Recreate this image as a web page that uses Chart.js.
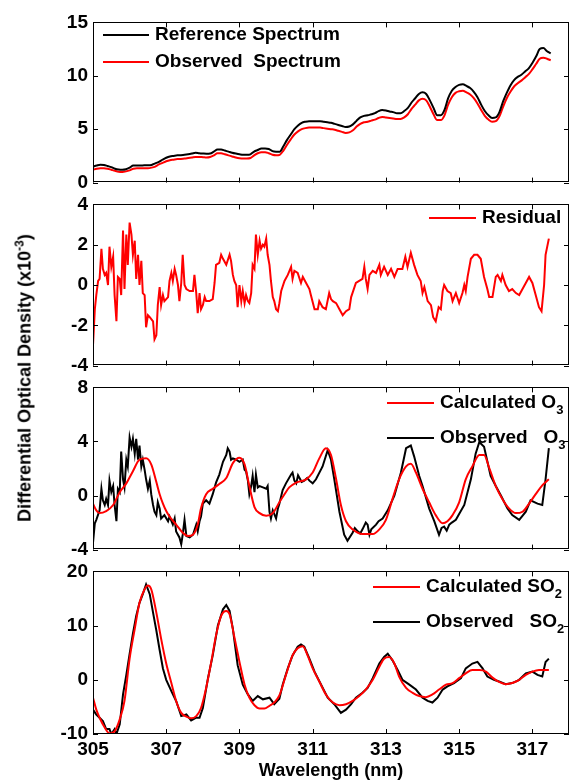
<!DOCTYPE html>
<html>
<head>
<meta charset="utf-8">
<script src="https://cdn.jsdelivr.net/npm/chart.js@4.4.0/dist/chart.umd.min.js"></script>
<style>
    body { margin: 0; background: #fff; }
    #wrap { position: relative; width: 569px; height: 780px; overflow: hidden; }
    #wrap canvas { position: absolute; left: 0; }
    #ytitle {
        position: absolute; left: 24px; top: 378px;
        transform: translate(-50%, -50%) rotate(-90deg);
        white-space: nowrap; color: #000;
        font: bold 18px "Liberation Sans", Arial, sans-serif;
    }
    #ytitle sup { font-size: 12px; }
</style>
</head>
<body>
<div id="wrap">
    <canvas id="c1" width="569" height="193" style="top:6px"></canvas>
    <canvas id="c2" width="569" height="194" style="top:188px"></canvas>
    <canvas id="c3" width="569" height="195" style="top:371px"></canvas>
    <canvas id="c4" width="569" height="225" style="top:555px"></canvas>
    <div id="ytitle">Differential Optical Density (x10<sup>-3</sup>)</div>
</div>
<script>
// Wavelength axis (nm)
const xTicks = [305, 307, 309, 311, 313, 315, 317];

// Panel 1: spectra, sampled every 0.1 nm
const wl = [
    305.0, 305.1, 305.2, 305.3, 305.4, 305.5, 305.6, 305.7, 305.8, 305.9,
    306.0, 306.1, 306.2, 306.3, 306.4, 306.5, 306.6, 306.7, 306.8, 306.9,
    307.0, 307.1, 307.2, 307.3, 307.4, 307.5, 307.6, 307.7, 307.8, 307.9,
    308.0, 308.1, 308.2, 308.3, 308.4, 308.5, 308.6, 308.7, 308.8, 308.9,
    309.0, 309.1, 309.2, 309.3, 309.4, 309.5, 309.6, 309.7, 309.8, 309.9,
    310.0, 310.1, 310.2, 310.3, 310.4, 310.5, 310.6, 310.7, 310.8, 310.9,
    311.0, 311.1, 311.2, 311.3, 311.4, 311.5, 311.6, 311.7, 311.8, 311.9,
    312.0, 312.1, 312.2, 312.3, 312.4, 312.5, 312.6, 312.7, 312.8, 312.9,
    313.0, 313.1, 313.2, 313.3, 313.4, 313.5, 313.6, 313.7, 313.8, 313.9,
    314.0, 314.1, 314.2, 314.3, 314.4, 314.5, 314.6, 314.7, 314.8, 314.9,
    315.0, 315.1, 315.2, 315.3, 315.4, 315.5, 315.6, 315.7, 315.8, 315.9,
    316.0, 316.1, 316.2, 316.3, 316.4, 316.5, 316.6, 316.7, 316.8, 316.9,
    317.0, 317.1, 317.2, 317.3, 317.4, 317.5
];
const refSpectrum = [
    1.5, 1.6, 1.67, 1.65, 1.55, 1.45, 1.3, 1.22, 1.2, 1.25,
    1.4, 1.6, 1.6, 1.6, 1.62, 1.62, 1.65, 1.8, 1.95, 2.15,
    2.33, 2.45, 2.5, 2.55, 2.57, 2.6, 2.65, 2.72, 2.8, 2.75,
    2.72, 2.7, 2.72, 2.9, 3.1, 3.1, 3.0, 2.9, 2.8, 2.72,
    2.65, 2.6, 2.6, 2.65, 2.9, 3.05, 3.2, 3.2, 3.15, 2.95,
    2.9, 2.9, 3.4, 4.0, 4.5, 5.0, 5.35, 5.6, 5.7, 5.75,
    5.75, 5.75, 5.75, 5.7, 5.65, 5.6, 5.5, 5.4, 5.3, 5.2,
    5.25, 5.45, 5.8, 6.1, 6.25, 6.3, 6.4, 6.5, 6.7, 6.8,
    6.75, 6.65, 6.6, 6.5, 6.5, 6.7, 7.0, 7.5, 7.9, 8.3,
    8.45, 8.3, 7.7, 7.0, 6.3, 6.3, 6.8, 7.9, 8.6, 8.95,
    9.15, 9.2, 9.05, 8.85, 8.5, 8.0, 7.3, 6.7, 6.3, 6.05,
    6.1, 6.6, 7.6, 8.4, 9.1, 9.6, 9.9, 10.1, 10.4, 10.7,
    11.2, 11.8, 12.5, 12.6, 12.3, 12.1
];
const obsSpectrum = [
    1.2, 1.3, 1.35, 1.35, 1.3, 1.2, 1.1, 1.02, 1.0, 1.05,
    1.15, 1.3, 1.35, 1.35, 1.35, 1.35, 1.4, 1.5, 1.7, 1.85,
    2.0, 2.1, 2.15, 2.2, 2.22, 2.25, 2.3, 2.35, 2.4, 2.4,
    2.38, 2.35, 2.4, 2.55, 2.75, 2.75, 2.65, 2.55, 2.45, 2.35,
    2.28, 2.25, 2.25, 2.3, 2.55, 2.75, 2.85, 2.85, 2.75, 2.6,
    2.55, 2.6, 3.0, 3.55, 4.05, 4.5, 4.8, 5.0, 5.1, 5.15,
    5.15, 5.15, 5.15, 5.1, 5.05, 5.0, 4.95, 4.85, 4.75, 4.65,
    4.7, 4.9, 5.25, 5.5, 5.65, 5.7, 5.8, 5.9, 6.05, 6.15,
    6.1, 6.05, 6.0, 5.95, 5.95, 6.1, 6.4, 6.9, 7.3, 7.7,
    7.85, 7.7, 7.1, 6.4, 5.85, 5.85, 6.3, 7.3, 8.0, 8.4,
    8.55, 8.6, 8.45, 8.25, 7.9, 7.4, 6.8, 6.25, 5.9, 5.7,
    5.75, 6.2, 7.1, 7.9, 8.5, 9.0, 9.3, 9.55, 9.85, 10.15,
    10.6, 11.1, 11.6, 11.7, 11.6, 11.45
];

// Panel 2: residual
const residWl = [
    305.00, 305.05, 305.09, 305.14, 305.18, 305.23, 305.27, 305.32, 305.36, 305.41,
    305.45, 305.50, 305.55, 305.59, 305.64, 305.68, 305.73, 305.77, 305.82, 305.86,
    305.91, 305.95, 306.00, 306.05, 306.09, 306.14, 306.18, 306.23, 306.27, 306.32,
    306.36, 306.41, 306.45, 306.50, 306.55, 306.64, 306.68, 306.73, 306.77, 306.82,
    306.86, 306.91, 306.95, 307.00, 307.05, 307.09, 307.14, 307.18, 307.23, 307.27,
    307.32, 307.36, 307.41, 307.45, 307.50, 307.55, 307.64, 307.73, 307.77, 307.82,
    307.86, 307.91, 307.95, 308.00, 308.05, 308.09, 308.18, 308.27, 308.32, 308.36,
    308.45, 308.50, 308.55, 308.64, 308.73, 308.77, 308.82, 308.86, 308.91, 308.95,
    309.00, 309.05, 309.09, 309.14, 309.18, 309.23, 309.27, 309.32, 309.36, 309.41,
    309.45, 309.50, 309.55, 309.59, 309.64, 309.68, 309.73, 309.77, 309.82, 309.86,
    309.91, 309.95, 310.00, 310.05, 310.09, 310.14, 310.23, 310.32, 310.41, 310.45,
    310.50, 310.59, 310.68, 310.73, 310.82, 310.91, 310.95, 311.05, 311.14, 311.18,
    311.27, 311.36, 311.45, 311.50, 311.55, 311.64, 311.73, 311.82, 311.91, 312.00,
    312.05, 312.18, 312.27, 312.36, 312.41, 312.45, 312.50, 312.55, 312.64, 312.73,
    312.82, 312.86, 312.95, 313.05, 313.14, 313.23, 313.32, 313.45, 313.53, 313.59,
    313.68, 313.77, 313.86, 313.95, 314.00, 314.05, 314.14, 314.23, 314.29, 314.36,
    314.44, 314.50, 314.55, 314.59, 314.68, 314.77, 314.82, 314.91, 315.00, 315.09,
    315.14, 315.18, 315.23, 315.32, 315.41, 315.50, 315.59, 315.68, 315.77, 315.82,
    315.91, 316.00, 316.05, 316.14, 316.18, 316.27, 316.36, 316.45, 316.55, 316.64,
    316.73, 316.82, 316.91, 317.00, 317.09, 317.18, 317.25, 317.32, 317.36, 317.45
];
const residual = [
    -3.0, -1.2, -0.5, 0.2, 0.3, 1.8, 0.8, 0.5, 0.6, 0.0,
    1.9, 0.9, 1.4, -0.5, -1.8, 0.4, 0.3, -0.5, 2.7, -0.2,
    2.5, 1.0, 3.1, 2.5, 1.5, 2.2, 0.3, 1.5, 0.0, 1.2,
    -0.4, -0.5, -2.1, -1.5, -1.6, -1.8, -2.7, -2.5, -1.0, -0.1,
    -1.0, -0.5, -0.8, -0.7, -0.6, 0.2, 0.6, 0.2, 0.8, 0.5,
    0.0, -0.8, 0.1, 1.5, 0.0, -0.2, -0.3, -0.3, 0.5, -0.4,
    -1.4, -0.4, -1.2, -1.0, -0.6, -0.8, -0.8, -0.7, 0.1, 1.0,
    1.1, 1.5, 1.3, 1.0, 1.5, 1.2, 0.5, 0.2, 0.0, -1.1,
    0.0, -0.8, -0.3, -0.9, -0.5, -0.8, -0.9, -0.4, 1.0, 0.8,
    2.5, 1.5, 2.2, 1.8, 2.0, 1.9, 2.3, 1.5, 1.0, 0.2,
    -0.6, -0.8, -1.2, -1.3, -0.9, -0.3, 0.2, 0.5, 0.9, 0.3,
    0.7, 0.6, 0.1, 0.4, 0.1, -0.2, -0.5, -1.2, -1.2, -0.8,
    -1.1, -1.2, -0.4, -0.7, -0.8, -0.9, -1.2, -1.5, -1.3, -1.2,
    -0.6, 0.1, 0.2, 0.3, 0.9, 0.3, -0.2, 0.5, 0.7, 0.6,
    1.0, 0.5, 0.9, 0.5, 0.8, 0.4, 0.8, 0.8, 1.4, 0.9,
    1.6, 1.0, 0.5, 0.2, -0.4, -0.1, -0.8, -1.0, -1.6, -1.8,
    -1.1, -1.2, -0.3, 0.0, -0.3, -0.4, -0.8, -0.4, -0.9, -0.4,
    0.0, -0.3, 0.4, 1.3, 1.5, 1.5, 1.3, 0.4, -0.2, -0.6,
    -0.6, 0.4, 0.5, 0.2, 0.5, 0.0, -0.3, -0.2, -0.4, -0.5,
    -0.2, 0.1, 0.4, 0.1, -0.5, -1.1, -1.3, 0.0, 1.5, 2.3
];

// Panel 3: O3
const calcO3Wl = [
    305.00, 305.09, 305.18, 305.36, 305.55, 305.73, 305.91, 306.09, 306.27, 306.45,
    306.59, 306.73, 306.82, 306.91, 307.00, 307.09, 307.27, 307.45, 307.59, 307.73,
    307.86, 307.95, 308.09, 308.27, 308.45, 308.64, 308.82, 309.00, 309.14, 309.27,
    309.41, 309.55, 309.73, 309.91, 310.09, 310.23, 310.36, 310.55, 310.82, 311.00,
    311.18, 311.36, 311.50, 311.64, 311.77, 311.91, 312.09, 312.36, 312.64, 312.82,
    313.00, 313.18, 313.36, 313.55, 313.68, 313.82, 314.00, 314.18, 314.36, 314.55,
    314.68, 314.82, 315.00, 315.18, 315.36, 315.55, 315.68, 315.82, 316.00, 316.18,
    316.36, 316.55, 316.73, 316.91, 317.09, 317.27, 317.45
];
const calcO3 = [
    -0.6, -1.1, -1.3, -1.15, -0.7, 0.25, 0.9, 1.8, 2.65, 2.75,
    2.3, 1.0, 0.1, -0.6, -1.15, -1.55, -2.15, -2.75, -3.0, -2.9,
    -2.15, -0.95, 0.1, 0.5, 0.85, 1.3, 2.4, 2.8, 2.3, 0.7,
    -0.85, -1.3, -1.5, -1.3, -0.5, 0.1, 0.6, 0.95, 1.2, 1.7,
    2.75, 3.5, 3.0, 1.2, -0.7, -1.9, -2.5, -2.85, -2.85, -2.5,
    -1.8, -0.25, 1.2, 2.15, 2.35, 1.7, 0.5, -0.5, -1.45, -2.05,
    -1.9, -1.45, -0.5, 1.2, 2.15, 3.0, 3.0, 2.05, 0.7, -0.25,
    -0.95, -1.3, -1.2, -0.6, 0.1, 0.75, 1.2
];
const obsO3Wl = [
    305.00, 305.05, 305.09, 305.18, 305.23, 305.27, 305.32, 305.36, 305.41, 305.45,
    305.50, 305.55, 305.59, 305.64, 305.68, 305.73, 305.77, 305.82, 305.86, 305.91,
    305.95, 306.00, 306.05, 306.09, 306.14, 306.18, 306.23, 306.27, 306.32, 306.36,
    306.41, 306.45, 306.50, 306.55, 306.59, 306.64, 306.68, 306.73, 306.77, 306.82,
    306.86, 306.95, 307.05, 307.09, 307.18, 307.23, 307.27, 307.36, 307.41, 307.45,
    307.50, 307.55, 307.64, 307.73, 307.82, 307.86, 307.91, 307.95, 308.00, 308.09,
    308.18, 308.27, 308.36, 308.45, 308.55, 308.64, 308.68, 308.73, 308.77, 308.82,
    308.91, 309.00, 309.09, 309.14, 309.18, 309.23, 309.27, 309.32, 309.36, 309.41,
    309.45, 309.50, 309.55, 309.64, 309.73, 309.77, 309.82, 309.86, 309.91, 310.00,
    310.05, 310.09, 310.18, 310.27, 310.41, 310.45, 310.50, 310.55, 310.60, 310.64,
    310.70, 310.77, 310.85, 310.91, 311.00, 311.09, 311.27, 311.41, 311.50, 311.59,
    311.73, 311.86, 311.95, 312.09, 312.15, 312.23, 312.30, 312.36, 312.45, 312.50,
    312.55, 312.60, 312.73, 312.80, 312.91, 313.05, 313.23, 313.41, 313.55, 313.68,
    313.77, 313.91, 314.00, 314.18, 314.32, 314.45, 314.52, 314.59, 314.66, 314.73,
    314.80, 314.91, 315.14, 315.32, 315.45, 315.55, 315.68, 315.86, 316.00, 316.14,
    316.32, 316.45, 316.64, 316.82, 316.95, 317.14, 317.27, 317.36, 317.45
];
const obsO3 = [
    -3.5, -2.05, -1.8, -1.1, 0.5, -0.35, -0.7, -0.25, -0.7, 1.1,
    0.25, 0.7, -0.7, -1.9, 0.5, 0.25, 3.25, 1.2, 0.6, 2.65,
    2.15, 4.3, 3.6, 4.2, 3.1, 4.2, 2.65, 3.7, 2.15, 2.65,
    1.9, 1.2, 0.5, 1.1, 0.1, -0.7, -1.2, -1.45, -0.5, -0.95,
    -1.7, -1.45, -1.9, -1.55, -2.15, -1.7, -2.65, -3.1, -3.6, -2.9,
    -1.8, -3.0, -3.1, -2.9, -2.15, -2.65, -1.9, -1.55, -0.6, -0.35,
    -0.6, 0.1, 0.95, 1.55, 2.5, 3.0, 3.5, 3.25, 2.65, 2.75,
    2.65, 2.5, 2.65, 1.9, 1.8, 1.1, 0.1, 0.7, 1.45, 0.25,
    1.55, 0.6, 0.7, 0.6, 0.5, 0.7, -1.2, -1.7, -1.1, -1.7,
    -0.95, -0.6, 0.4, 0.9, 1.55, 1.7, 1.1, 0.9, 1.5, 1.3,
    1.0, 1.1, 1.3, 1.1, 0.9, 1.2, 2.15, 3.35, 2.65, 1.2,
    -1.2, -2.9, -3.35, -2.75, -2.4, -2.65, -2.8, -2.5, -2.0, -2.15,
    -2.9, -2.5, -2.15, -1.9, -1.7, -1.1, 0.0, 1.7, 3.5, 3.7,
    2.9, 1.45, 0.7, -0.95, -1.9, -2.9, -2.4, -2.3, -2.6, -2.15,
    -2.0, -1.8, -0.7, 1.2, 3.1, 3.95, 3.6, 1.45, 0.7, 0.0,
    -0.95, -1.45, -1.8, -1.2, -0.35, -0.6, -0.7, 1.2, 3.5
];

// Panel 4: SO2
const calcSO2Wl = [
    305.00, 305.09, 305.18, 305.32, 305.45, 305.59, 305.73, 305.86, 306.00, 306.14,
    306.27, 306.41, 306.50, 306.59, 306.73, 306.86, 307.00, 307.14, 307.27, 307.41,
    307.55, 307.68, 307.82, 307.95, 308.09, 308.23, 308.36, 308.50, 308.64, 308.73,
    308.86, 309.00, 309.14, 309.27, 309.41, 309.55, 309.68, 309.82, 309.95, 310.09,
    310.27, 310.45, 310.59, 310.73, 310.86, 311.00, 311.18, 311.36, 311.55, 311.73,
    311.91, 312.09, 312.27, 312.45, 312.64, 312.82, 312.95, 313.09, 313.23, 313.36,
    313.55, 313.73, 313.91, 314.09, 314.27, 314.45, 314.64, 314.82, 315.00, 315.18,
    315.36, 315.55, 315.73, 315.91, 316.09, 316.27, 316.45, 316.64, 316.82, 317.00,
    317.18, 317.36, 317.45
];
const calcSO2 = [
    -3.3, -5.5, -7.0, -8.8, -9.9, -9.5, -7.3, -3.9, 3.9, 9.4,
    14.2, 16.7, 17.4, 16.7, 12.4, 7.6, 3.0, -0.6, -3.9, -6.1,
    -6.8, -7.1, -6.7, -5.2, -1.5, 3.3, 8.2, 11.8, 12.7, 12.1,
    7.9, 3.3, -0.9, -3.3, -4.7, -5.3, -5.3, -4.8, -4.2, -2.9,
    0.9, 4.5, 5.8, 6.2, 4.5, 2.1, -0.3, -2.7, -4.2, -4.7,
    -4.5, -3.9, -3.0, -1.8, 0.0, 2.4, 3.9, 4.2, 3.0, 0.6,
    -1.5, -2.4, -3.0, -3.2, -2.7, -1.8, -0.9, -0.6, 0.3, 1.2,
    1.8, 1.8, 1.5, 0.4, -0.4, -0.8, -0.6, 0.0, 0.9, 1.5,
    1.8, 1.8, 1.8
];
const obsSO2Wl = [
    305.00, 305.09, 305.18, 305.27, 305.36, 305.45, 305.50, 305.59, 305.64, 305.73,
    305.82, 305.91, 306.00, 306.09, 306.18, 306.27, 306.36, 306.45, 306.55, 306.64,
    306.73, 306.82, 306.91, 307.00, 307.14, 307.27, 307.41, 307.55, 307.68, 307.82,
    307.91, 308.00, 308.14, 308.27, 308.41, 308.55, 308.64, 308.73, 308.82, 308.95,
    309.09, 309.23, 309.36, 309.50, 309.64, 309.82, 309.95, 310.09, 310.18, 310.32,
    310.45, 310.59, 310.68, 310.77, 310.91, 311.05, 311.23, 311.41, 311.59, 311.77,
    311.91, 312.05, 312.18, 312.36, 312.50, 312.64, 312.82, 312.95, 313.05, 313.18,
    313.32, 313.45, 313.64, 313.82, 314.00, 314.14, 314.27, 314.41, 314.55, 314.68,
    314.86, 315.05, 315.18, 315.36, 315.50, 315.64, 315.77, 315.95, 316.09, 316.27,
    316.45, 316.64, 316.82, 317.00, 317.14, 317.27, 317.36, 317.45
];
const obsSO2 = [
    -5.5, -6.4, -7.0, -7.6, -9.1, -9.1, -10.0, -9.1, -10.0, -8.2,
    -2.7, 0.9, 4.8, 8.5, 11.8, 14.2, 15.8, 17.6, 15.8, 12.4,
    9.1, 5.5, 2.1, 0.0, -2.1, -3.9, -6.7, -6.4, -7.5, -7.0,
    -7.0, -5.2, 0.3, 4.5, 10.0, 13.0, 13.8, 12.7, 9.4, 2.7,
    -0.9, -2.7, -3.9, -3.0, -3.6, -3.3, -4.5, -3.5, -0.9, 2.1,
    4.5, 6.1, 6.5, 6.1, 3.9, 1.5, -0.9, -3.3, -4.5, -6.1,
    -5.5, -4.5, -3.3, -2.4, -1.5, 0.3, 3.0, 4.2, 4.8, 3.6,
    1.8, 0.0, -0.9, -1.8, -3.3, -3.9, -4.2, -3.3, -1.8, -1.2,
    -0.6, 0.3, 2.1, 3.0, 3.3, 2.1, 0.6, 0.0, -0.3, -0.8,
    -0.6, 0.0, 1.2, 1.5, 0.9, 0.6, 3.3, 3.9
];

const FONT = '"Liberation Sans", Arial, sans-serif';

function pts(xs, ys) {
    return xs.map((x, i) => ({ x: x, y: ys[i] }));
}

// frame, inward ticks on all four sides, and an in-plot legend
const decoPlugin = {
    id: 'deco',
    afterDatasetsDraw(chart, args, opts) {
        const ctx = chart.ctx;
        const area = chart.chartArea;
        const xs = chart.scales.x;
        const ys = chart.scales.y;
        const tl = 5;
        ctx.save();
        ctx.strokeStyle = '#000';
        ctx.lineWidth = 1;
        ctx.beginPath();
        xTicks.forEach(v => {
            const px = Math.round(xs.getPixelForValue(v)) + 0.5;
            ctx.moveTo(px, area.top); ctx.lineTo(px, area.top + tl);
            ctx.moveTo(px, area.bottom); ctx.lineTo(px, area.bottom - tl);
        });
        ys.ticks.forEach(t => {
            const py = Math.round(ys.getPixelForValue(t.value)) + 0.5;
            ctx.moveTo(area.left, py); ctx.lineTo(area.left + tl, py);
            ctx.moveTo(area.right, py); ctx.lineTo(area.right - tl, py);
        });
        ctx.stroke();
        ctx.strokeRect(Math.round(area.left) + 0.5, Math.round(area.top) + 0.5,
            Math.round(area.right - area.left) - 1, Math.round(area.bottom - area.top) - 1);

        // legend
        const off = opts.offset || 0;
        (opts.items || []).forEach(it => {
            const ds = chart.data.datasets[it.ds];
            const y = it.y - off;
            ctx.strokeStyle = ds.borderColor;
            ctx.lineWidth = 2;
            ctx.beginPath();
            ctx.moveTo(it.x1, y); ctx.lineTo(it.x2, y);
            ctx.stroke();
            ctx.fillStyle = '#000';
            ctx.textBaseline = 'middle';
            let x = it.tx;
            it.parts.forEach(p => {
                if (p.sub) {
                    ctx.font = 'bold 13px ' + FONT;
                    ctx.fillText(p.t, x, y + 7);
                } else {
                    ctx.font = 'bold 19px ' + FONT;
                    ctx.fillText(p.t, x, y);
                }
                x += ctx.measureText(p.t).width;
            });
        });
        ctx.restore();
    }
};

function makePanel(id, top, datasets, yMin, yMax, yTicks, legendItems, isBottom) {
    const canvas = document.getElementById(id);
    const xScale = {
        type: 'linear', min: 305, max: 318,
        display: !!isBottom,
        grid: { display: false, drawTicks: false },
        border: { display: false },
        afterBuildTicks: s => { s.ticks = xTicks.map(v => ({ value: v })); },
        ticks: { color: '#000', padding: 4, maxRotation: 0, font: { family: FONT, size: 19, weight: 'bold' } }
    };
    if (isBottom) {
        xScale.title = {
            display: true, text: 'Wavelength (nm)', color: '#000',
            padding: { top: 0, bottom: 0 },
            font: { family: FONT, size: 18, weight: 'bold', lineHeight: 1 }
        };
        xScale.afterFit = s => { s.height = 46; };
    }
    return new Chart(canvas, {
        type: 'line',
        data: { datasets: datasets },
        options: {
            responsive: false,
            animation: false,
            layout: { padding: { top: 14, bottom: isBottom ? 0 : 14, left: 0, right: 0 } },
            elements: { point: { radius: 0 } },
            scales: {
                x: xScale,
                y: {
                    min: yMin, max: yMax,
                    grid: { display: false, drawTicks: false },
                    border: { display: false },
                    afterBuildTicks: s => { s.ticks = yTicks.map(v => ({ value: v })); },
                    afterFit: s => { s.width = 93; },
                    ticks: { color: '#000', padding: 5, font: { family: FONT, size: 19, weight: 'bold' } }
                }
            },
            plugins: {
                legend: { display: false },
                tooltip: { enabled: false },
                deco: { offset: top, items: legendItems }
            }
        },
        plugins: [decoPlugin]
    });
}

function line(label, data, color, smooth) {
    return {
        label: label, data: data,
        borderColor: color, borderWidth: 2,
        fill: false, pointRadius: 0,
        cubicInterpolationMode: smooth ? 'monotone' : 'default',
        tension: 0
    };
}

makePanel('c1', 6, [
    line('Reference Spectrum', pts(wl, refSpectrum), '#000000', true),
    line('Observed  Spectrum', pts(wl, obsSpectrum), '#ff0000', true)
], 0, 15, [0, 5, 10, 15], [
    { ds: 0, x1: 103, x2: 149, y: 35, tx: 155, parts: [{ t: 'Reference Spectrum' }] },
    { ds: 1, x1: 103, x2: 149, y: 62, tx: 155, parts: [{ t: 'Observed  Spectrum' }] }
]);

makePanel('c2', 188, [
    line('Residual', pts(residWl, residual), '#ff0000', false)
], -4, 4, [-4, -2, 0, 2, 4], [
    { ds: 0, x1: 429, x2: 476, y: 218, tx: 482, parts: [{ t: 'Residual' }] }
]);

makePanel('c3', 371, [
    line('Calculated O3', pts(calcO3Wl, calcO3), '#ff0000', true),
    line('Observed O3', pts(obsO3Wl, obsO3), '#000000', false)
], -4, 8, [-4, 0, 4, 8], [
    { ds: 0, x1: 387, x2: 434, y: 403, tx: 440, parts: [{ t: 'Calculated O' }, { t: '3', sub: true }] },
    { ds: 1, x1: 387, x2: 434, y: 438, tx: 440, parts: [{ t: 'Observed   O' }, { t: '3', sub: true }] }
]);

makePanel('c4', 555, [
    line('Calculated SO2', pts(calcSO2Wl, calcSO2), '#ff0000', true),
    line('Observed SO2', pts(obsSO2Wl, obsSO2), '#000000', false)
], -10, 20, [-10, 0, 10, 20], [
    { ds: 0, x1: 373, x2: 420, y: 587, tx: 426, parts: [{ t: 'Calculated SO' }, { t: '2', sub: true }] },
    { ds: 1, x1: 373, x2: 420, y: 622, tx: 426, parts: [{ t: 'Observed   SO' }, { t: '2', sub: true }] }
], true);
</script>
</body>
</html>
